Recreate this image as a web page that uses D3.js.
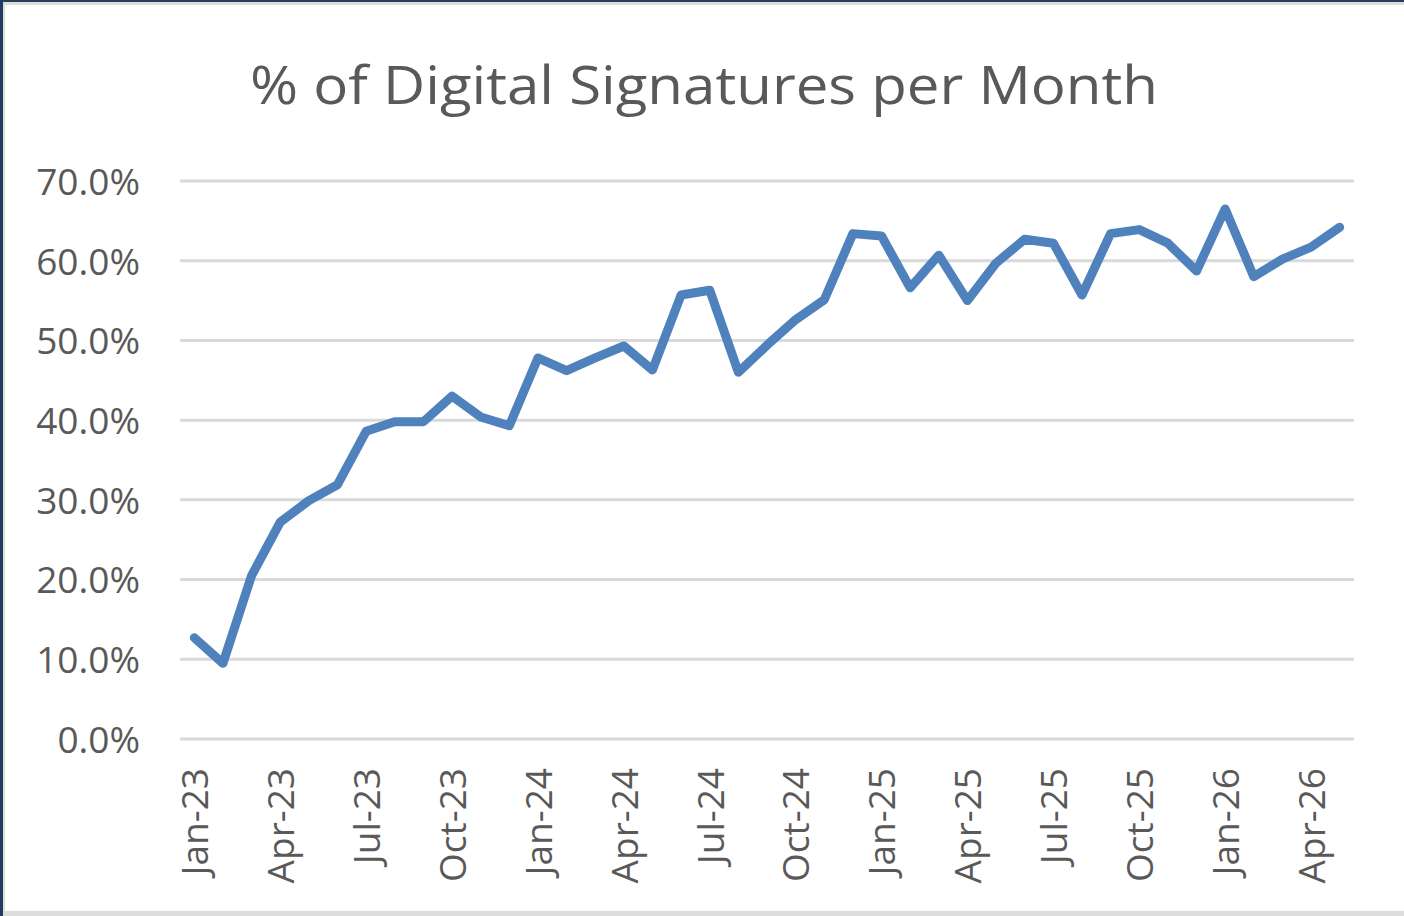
<!DOCTYPE html>
<html>
<head>
<meta charset="utf-8">
<script src="https://cdn.jsdelivr.net/npm/d3@7"></script>
<style>
  html, body { margin: 0; padding: 0; background: #fff; }
  svg { display: block; }
</style>
</head>
<body>
<div id="chart"></div>
<script>
// months Jan-23 .. May-26
var months = ["Jan-23","Feb-23","Mar-23","Apr-23","May-23","Jun-23","Jul-23","Aug-23","Sep-23","Oct-23","Nov-23","Dec-23",
              "Jan-24","Feb-24","Mar-24","Apr-24","May-24","Jun-24","Jul-24","Aug-24","Sep-24","Oct-24","Nov-24","Dec-24",
              "Jan-25","Feb-25","Mar-25","Apr-25","May-25","Jun-25","Jul-25","Aug-25","Sep-25","Oct-25","Nov-25","Dec-25",
              "Jan-26","Feb-26","Mar-26","Apr-26","May-26"];

var pctDigital = [0.127, 0.095, 0.205, 0.272, 0.299, 0.319, 0.386, 0.398, 0.398, 0.430, 0.404, 0.393,
                  0.478, 0.462, 0.478, 0.493, 0.463, 0.557, 0.563, 0.460, 0.494, 0.526, 0.551, 0.634,
                  0.631, 0.566, 0.607, 0.550, 0.597, 0.627, 0.622, 0.557, 0.634, 0.639, 0.622, 0.587,
                  0.665, 0.580, 0.602, 0.617, 0.642];

var xTickLabels = ["Jan-23","Apr-23","Jul-23","Oct-23","Jan-24","Apr-24","Jul-24","Oct-24",
                   "Jan-25","Apr-25","Jul-25","Oct-25","Jan-26","Apr-26"];
var yTicks = [0, 0.1, 0.2, 0.3, 0.4, 0.5, 0.6, 0.7];

var width = 1404, height = 916;
var textColor = "#595959";
var font = "'Open Sans', 'Noto Sans', sans-serif";

var svg = d3.select("#chart").append("svg")
    .attr("width", width)
    .attr("height", height);

// window frame bits around the chart
svg.append("rect").attr("x", 0).attr("y", 0).attr("width", width).attr("height", height).attr("fill", "#dcdcdc");
svg.append("rect").attr("x", 0).attr("y", 0).attr("width", width).attr("height", 2).attr("fill", "#2a3f5a");
svg.append("rect").attr("x", 0).attr("y", 0).attr("width", 3).attr("height", height).attr("fill", "#1f3b5e");
svg.append("rect").attr("x", 5).attr("y", 5).attr("width", width - 5).attr("height", height - 10).attr("fill", "#fff");

var x = d3.scalePoint()
    .domain(months)
    .range([180, 1354])
    .padding(0.5);

var y = d3.scaleLinear()
    .domain([0, 0.7])
    .range([739, 181]);

// title
svg.append("text")
    .attr("x", 704)
    .attr("y", 104)
    .attr("text-anchor", "middle")
    .attr("fill", textColor)
    .style("font-family", font)
    .style("font-size", "53px")
    .attr("textLength", 908)
    .attr("lengthAdjust", "spacingAndGlyphs")
    .text("% of Digital Signatures per Month");

// gridlines
svg.append("g")
    .selectAll("line")
    .data(yTicks)
    .enter().append("line")
    .attr("x1", 180)
    .attr("x2", 1354)
    .attr("y1", function (d) { return y(d); })
    .attr("y2", function (d) { return y(d); })
    .attr("stroke", "#d9d9d9")
    .attr("stroke-width", 3);

// y axis labels
var yAxis = d3.axisLeft(y)
    .tickValues(yTicks)
    .tickFormat(d3.format(".1%"))
    .tickSize(0)
    .tickPadding(0);

var gy = svg.append("g")
    .attr("transform", "translate(140,0)")
    .call(yAxis);
gy.select(".domain").remove();
gy.selectAll("text")
    .attr("fill", textColor)
    .attr("dy", "0.36em")
    .style("font-family", font)
    .style("font-size", "37px");

// x axis labels (every 3rd month)
var xAxis = d3.axisBottom(x)
    .tickValues(xTickLabels)
    .tickSize(0)
    .tickPadding(0);

var gx = svg.append("g")
    .attr("transform", "translate(0,768)")
    .call(xAxis);
gx.select(".domain").remove();
gx.selectAll("text")
    .attr("fill", textColor)
    .attr("text-anchor", "end")
    .attr("transform", "rotate(-90)")
    .attr("x", 0)
    .attr("y", 0)
    .attr("dy", "0.36em")
    .style("font-family", font)
    .style("font-size", "37px");

// the line
var line = d3.line()
    .x(function (d, i) { return x(months[i]); })
    .y(function (d) { return y(d); });

svg.append("path")
    .datum(pctDigital)
    .attr("d", line)
    .attr("fill", "none")
    .attr("stroke", "#4f81bd")
    .attr("stroke-width", 9)
    .attr("stroke-linejoin", "round")
    .attr("stroke-linecap", "round");
</script>
</body>
</html>
